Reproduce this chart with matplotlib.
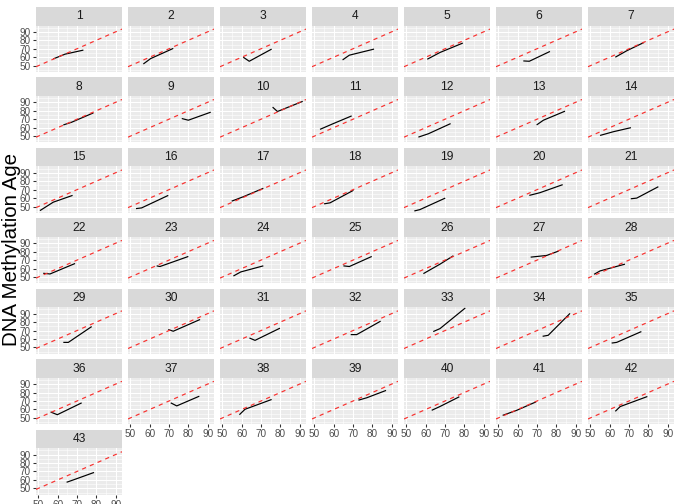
import matplotlib
matplotlib.use("Agg")
import matplotlib.pyplot as plt
from matplotlib.patches import Rectangle

plt.rcParams['font.family'] = ['Liberation Sans', 'DejaVu Sans']

# ---------------- data ----------------
panel_ids = list(range(1, 44))

chrono_age = [
    [57.7, 63.8, 73.3], [56.7, 60.5, 72.2], [60.8, 63.9, 75.5], [64.6, 68.1, 80.9],
    [60.8, 67.4, 79.2], [62.9, 66.0, 76.7], [62.9, 68.8, 77.8], [62.9, 67.2, 78.5],
    [76.6, 80.0, 91.6], [76.0, 78.5, 91.6], [52.9, 59.8, 69.3], [56.2, 61.4, 72.9],
    [69.8, 73.3, 84.5], [55.0, 61.9, 71.0], [50.8, 57.7, 67.7], [52.9, 55.8, 69.6],
    [54.8, 60.8, 71.2], [55.0, 58.1, 70.2], [54.1, 57.0, 70.1], [66.0, 71.5, 83.3],
    [70.9, 74.0, 85.2], [52.5, 56.0, 69.0], [63.6, 65.3, 80.0], [55.7, 59.5, 71.2],
    [65.0, 68.1, 79.7], [58.8, 67.4, 74.3], [66.7, 75.0, 81.2], [51.9, 55.0, 67.9],
    [62.9, 65.5, 77.6], [69.6, 72.2, 86.1], [64.0, 66.9, 79.8], [68.8, 71.9, 84.3],
    [63.9, 67.4, 80.5], [72.9, 75.8, 87.1], [61.0, 63.6, 76.4], [56.3, 59.8, 72.4],
    [70.9, 74.0, 85.7], [58.8, 61.7, 75.5], [72.8, 77.1, 87.1], [63.1, 67.4, 77.4],
    [52.2, 59.5, 69.5], [62.9, 65.4, 79.5], [64.6, 68.1, 78.8],
]

dnam_age = [
    [58.0, 63.6, 68.4], [52.0, 58.4, 70.4], [60.0, 55.2, 69.6], [56.8, 62.4, 69.6],
    [57.6, 65.6, 76.7], [55.6, 55.2, 66.8], [60.0, 67.6, 77.5], [63.2, 66.4, 77.5],
    [70.8, 68.8, 78.3], [84.3, 79.1, 91.1], [58.0, 64.8, 73.9], [48.8, 52.8, 64.8],
    [63.2, 68.8, 79.5], [50.8, 55.2, 60.0], [45.2, 55.2, 63.2], [47.6, 48.4, 63.2],
    [56.4, 61.6, 71.6], [53.2, 54.4, 69.2], [44.8, 46.4, 60.0], [63.2, 66.4, 75.9],
    [59.2, 60.0, 73.5], [54.4, 53.6, 66.0], [63.2, 62.4, 74.3], [51.2, 56.0, 63.2],
    [63.2, 62.4, 74.3], [54.0, 65.2, 75.1], [73.5, 75.5, 80.7], [53.2, 57.2, 65.2],
    [56.0, 56.0, 74.7], [71.2, 69.2, 83.1], [61.2, 58.4, 72.8], [65.2, 65.2, 81.1],
    [68.8, 72.3, 96.7], [63.2, 64.4, 90.3], [55.2, 56.0, 68.8], [57.0, 53.8, 67.8],
    [67.8, 64.2, 75.7], [53.8, 60.2, 71.8], [71.0, 73.8, 82.5], [59.0, 63.5, 75.0],
    [53.0, 59.0, 69.0], [57.8, 63.4, 75.3], [57.2, 60.0, 68.8],
]

x_ticks = [50, 60, 70, 80, 90]
y_ticks = [50, 60, 70, 80, 90]
x_minor = [55, 65, 75, 85]
y_minor = [45, 55, 65, 75, 85, 95]
y_title = "DNA Methylation Age"

# ---------------- layout ----------------
W, H = 675, 504
fig = plt.figure(figsize=(W / 72, H / 72), dpi=72)
fig.patch.set_facecolor('white')

XLIM = (48.75, 93.3)
YLIM = (42.5, 97.5)
ncol = 7
col_x0, col_pitch, pan_w = 36, 92, 86
row_y0, row_pitch, strip_h, pan_h = 7, 70.45, 18.5, 46.5

n = len(panel_ids)
for i, pid in enumerate(panel_ids):
    r, c = divmod(i, ncol)
    left = col_x0 + col_pitch * c
    strip_top = row_y0 + row_pitch * r
    pan_top = strip_top + strip_h
    ax = fig.add_axes([left / W, 1 - (pan_top + pan_h) / H, pan_w / W, pan_h / H])
    ax.set_facecolor('#EBEBEB')
    for s in ax.spines.values():
        s.set_visible(False)
    ax.set_xlim(*XLIM)
    ax.set_ylim(*YLIM)
    ax.set_xticks(x_ticks)
    ax.set_yticks(y_ticks)
    ax.set_xticks(x_minor, minor=True)
    ax.set_yticks(y_minor, minor=True)
    ax.grid(which='major', color='white', lw=1.07)
    ax.grid(which='minor', color='white', lw=0.55)
    ax.set_axisbelow(True)
    ax.tick_params(which='minor', length=0)

    is_bottom = (i + ncol >= n)
    is_left = (c == 0)
    ax.tick_params(axis='x', which='major', length=2.75 if is_bottom else 0, width=1.07,
                   color='#333333', labelsize=10, labelcolor='#4D4D4D', pad=2.2,
                   labelbottom=is_bottom)
    ax.tick_params(axis='y', which='major', length=2.75 if is_left else 0, width=1.07,
                   color='#333333', labelsize=10, labelcolor='#4D4D4D', pad=2.2,
                   labelleft=is_left)

    ax.plot(chrono_age[i], dnam_age[i], color='black', lw=1.2, zorder=3,
            solid_capstyle='butt')
    ax.axline((60, 60), slope=1, color='#F8312F', lw=1.2, linestyle=(0, (3.5, 3.5)),
              zorder=4)

    fig.add_artist(Rectangle((left / W, 1 - (strip_top + strip_h) / H), pan_w / W,
                             strip_h / H, transform=fig.transFigure,
                             facecolor='#D9D9D9', edgecolor='none'))
    fig.text((left + pan_w / 2) / W, 1 - (strip_top + strip_h / 2) / H, str(pid),
             ha='center', va='center', fontsize=12, color='#1A1A1A')

fig.text(11.5 / W, 1 - 250 / H, y_title, rotation=90, ha='center', va='center',
         fontsize=20.5, color='black')

fig.savefig('out.png', dpi=72)
